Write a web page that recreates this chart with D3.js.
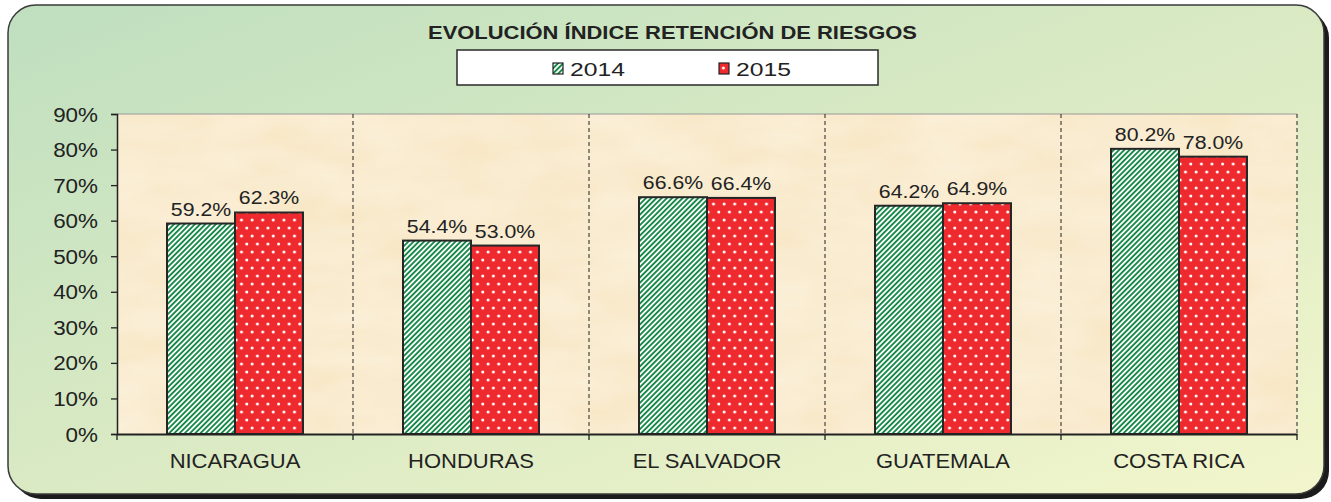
<!DOCTYPE html>
<html>
<head>
<meta charset="utf-8">
<script src="https://cdn.jsdelivr.net/npm/d3@7"></script>
<style>
  html, body { margin: 0; padding: 0; background: #fff; }
  svg { display: block; font-family: "Liberation Sans", Arial, sans-serif; }
</style>
</head>
<body>
<div id="chart"></div>
<script>
const countries = ["NICARAGUA", "HONDURAS", "EL SALVADOR", "GUATEMALA", "COSTA RICA"];
const years = ["2014", "2015"];
const values2014 = [0.592, 0.544, 0.666, 0.642, 0.802];
const values2015 = [0.623, 0.530, 0.664, 0.649, 0.780];
const yTicks = [0, 0.1, 0.2, 0.3, 0.4, 0.5, 0.6, 0.7, 0.8, 0.9];
const title = "EVOLUCIÓN ÍNDICE RETENCIÓN DE RIESGOS";

const W = 1331, H = 502;
const margin = { top: 114, right: 34, bottom: 68, left: 117 };

const svg = d3.select("#chart").append("svg")
  .attr("width", W)
  .attr("height", H);

const defs = svg.append("defs");

// frame gradient green -> pale yellow
const grad = defs.append("linearGradient")
  .attr("id", "frameGrad")
  .attr("x1", 0).attr("y1", 0).attr("x2", 1).attr("y2", 1);
grad.append("stop").attr("offset", "0%").attr("stop-color", "#bfdfbf");
grad.append("stop").attr("offset", "55%").attr("stop-color", "#dcebc4");
grad.append("stop").attr("offset", "100%").attr("stop-color", "#f3f6cc");

// parchment texture
const tex = defs.append("filter").attr("id", "parch")
  .attr("x", 0).attr("y", 0).attr("width", 1).attr("height", 1);
tex.append("feTurbulence")
  .attr("type", "fractalNoise")
  .attr("baseFrequency", "0.012 0.03")
  .attr("numOctaves", 3)
  .attr("seed", 4)
  .attr("result", "noise");
tex.append("feColorMatrix")
  .attr("in", "noise")
  .attr("type", "matrix")
  .attr("values", "0 0 0 0 1  0 0 0 0 0.975  0 0 0 0 0.9  0 0 0 0.55 -0.12")
  .attr("result", "spots");
tex.append("feComposite").attr("in", "spots").attr("in2", "SourceGraphic").attr("operator", "atop");

// green diagonal stripes
const stripes = defs.append("pattern")
  .attr("id", "stripes")
  .attr("patternUnits", "userSpaceOnUse")
  .attr("width", 3.7).attr("height", 3.7)
  .attr("patternTransform", "rotate(45)");
stripes.append("rect").attr("width", 3.7).attr("height", 3.7).attr("fill", "#168848");
stripes.append("rect").attr("width", 1.8).attr("height", 3.7).attr("fill", "#ffffff");

// red with white dots
const dots = defs.append("pattern")
  .attr("id", "dots")
  .attr("patternUnits", "userSpaceOnUse")
  .attr("width", 10.6).attr("height", 16);
dots.append("rect").attr("width", 10.6).attr("height", 16).attr("fill", "#ee2a2e");
dots.append("circle").attr("cx", 2.6).attr("cy", 4).attr("r", 1.5).attr("fill", "#ffffff");
dots.append("circle").attr("cx", 7.9).attr("cy", 12).attr("r", 1.5).attr("fill", "#ffffff");

// frame + shadow
svg.append("rect")
  .attr("x", 13).attr("y", 10).attr("width", 1316).attr("height", 489)
  .attr("rx", 28).attr("fill", "#1b1b1b");
svg.append("rect")
  .attr("x", 8).attr("y", 5).attr("width", 1316).attr("height", 489)
  .attr("rx", 28).attr("fill", "url(#frameGrad)")
  .attr("stroke", "#3a3a3a").attr("stroke-width", 1.5);

const x0 = d3.scaleBand()
  .domain(countries)
  .range([margin.left, W - margin.right])
  .padding(0);

const x1 = d3.scaleBand()
  .domain(years)
  .range([50, x0.bandwidth() - 50]);

const y = d3.scaleLinear()
  .domain([0, 0.9])
  .range([H - margin.bottom, margin.top]);

const plotW = x0.range()[1] - x0.range()[0];
const plotH = y(0) - y(0.9);

// plot background
svg.append("rect")
  .attr("x", margin.left).attr("y", margin.top)
  .attr("width", plotW).attr("height", plotH)
  .attr("fill", "#f8e8c8");
svg.append("rect")
  .attr("x", margin.left).attr("y", margin.top)
  .attr("width", plotW).attr("height", plotH)
  .attr("fill", "#f8e8c8")
  .attr("filter", "url(#parch)");
svg.append("line")
  .attr("x1", margin.left).attr("x2", margin.left + plotW)
  .attr("y1", margin.top).attr("y2", margin.top)
  .attr("stroke", "#9a9a9a").attr("stroke-width", 1.2);

// dashed category dividers
const bounds = countries.map(c => x0(c) + x0.bandwidth());
svg.append("g").selectAll("line")
  .data(bounds)
  .join("line")
  .attr("x1", d => d).attr("x2", d => d)
  .attr("y1", margin.top).attr("y2", y(0))
  .attr("stroke", "#222")
  .attr("stroke-width", 1)
  .attr("stroke-dasharray", "4,3");

// bars
const series = [
  { year: "2014", values: values2014, fill: "url(#stripes)" },
  { year: "2015", values: values2015, fill: "url(#dots)" }
];

const groups = svg.append("g").selectAll("g")
  .data(countries)
  .join("g")
  .attr("transform", d => `translate(${x0(d)},0)`);

groups.selectAll("rect")
  .data((c, i) => series.map(s => ({ year: s.year, v: s.values[i], fill: s.fill })))
  .join("rect")
  .attr("x", d => x1(d.year))
  .attr("y", d => y(d.v))
  .attr("width", x1.bandwidth())
  .attr("height", d => y(0) - y(d.v))
  .attr("fill", d => d.fill)
  .attr("stroke", "#262626")
  .attr("stroke-width", 2);

const labelSx = 1.15;
groups.selectAll("text")
  .data((c, i) => series.map(s => ({ year: s.year, v: s.values[i] })))
  .join("text")
  .attr("transform", d => `translate(${x1(d.year) + x1.bandwidth() / 2},${y(d.v) - 8}) scale(${labelSx},1)`)
  .attr("text-anchor", "middle")
  .attr("font-size", 18.5)
  .attr("fill", "#222")
  .text(d => d3.format(".1%")(d.v));

// y axis
const tickSx = 1.15;
const yAxis = svg.append("g")
  .attr("transform", `translate(${margin.left},0)`)
  .call(d3.axisLeft(y).tickValues(yTicks).tickFormat(d3.format(".0%")).tickSize(6));
yAxis.select(".domain").attr("stroke", "#222").attr("stroke-width", 1.5);
yAxis.selectAll(".tick line").attr("stroke", "#222").attr("stroke-width", 1.3);
yAxis.selectAll(".tick text")
  .attr("x", -19 / tickSx)
  .attr("dy", "0.36em")
  .attr("transform", `scale(${tickSx},1)`)
  .attr("font-size", 19.5)
  .attr("font-family", "Liberation Sans, Arial, sans-serif")
  .attr("fill", "#222");

// x axis
const xAxis = svg.append("g")
  .attr("transform", `translate(0,${y(0)})`)
  .call(d3.axisBottom(x0).tickSize(0).tickPadding(20));
xAxis.select(".domain").attr("stroke", "#222").attr("stroke-width", 2);
xAxis.selectAll(".tick text")
  .attr("font-size", 20)
  .attr("font-family", "Liberation Sans, Arial, sans-serif")
  .attr("fill", "#222")
  .attr("transform", "scale(1.1,1)")
  .attr("dy", "0.71em");
svg.append("g").selectAll("line")
  .data([x0.range()[0]].concat(bounds))
  .join("line")
  .attr("x1", d => d).attr("x2", d => d)
  .attr("y1", y(0)).attr("y2", y(0) + 6)
  .attr("stroke", "#222").attr("stroke-width", 1.3);

// title
svg.append("text")
  .attr("x", 428).attr("y", 39)
  .attr("textLength", 489)
  .attr("lengthAdjust", "spacingAndGlyphs")
  .attr("font-size", 19)
  .attr("font-weight", "bold")
  .attr("fill", "#222")
  .text(title);

// legend
const legend = svg.append("g");
legend.append("rect")
  .attr("x", 457).attr("y", 50).attr("width", 421).attr("height", 35)
  .attr("fill", "#fff").attr("stroke", "#2a2a2a").attr("stroke-width", 1.5);
const legX = [553, 719];
series.forEach((s, i) => {
  legend.append("rect")
    .attr("x", legX[i]).attr("y", 63).attr("width", 10).attr("height", 11)
    .attr("fill", s.fill).attr("stroke", "#222").attr("stroke-width", 1.2);
  legend.append("text")
    .attr("transform", `translate(${legX[i] + 17},${76}) scale(1.3,1)`)
    .attr("font-size", 19)
    .attr("fill", "#222")
    .text(s.year);
});
</script>
</body>
</html>
